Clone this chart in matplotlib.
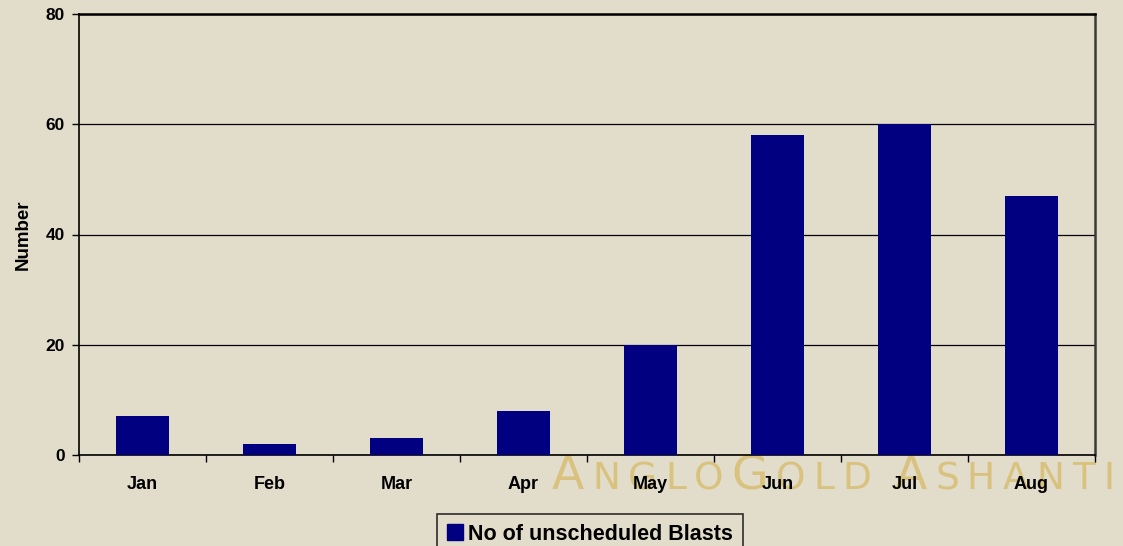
import matplotlib
matplotlib.use("Agg")
import matplotlib.pyplot as plt
from matplotlib.patches import Patch
import numpy as np

months = ["Jan", "Feb", "Mar", "Apr", "May", "Jun", "Jul", "Aug"]
blasts = [7, 2, 3, 8, 20, 58, 60, 47]
yticks = [0, 20, 40, 60, 80]
series_name = "No of unscheduled Blasts"

bg = "#E2DCCA"
navy = "#000080"
plt.rcParams['font.family'] = ['Liberation Sans', 'DejaVu Sans']

fig = plt.figure(figsize=(11.23, 5.46), dpi=100, facecolor=bg)
ax = fig.add_axes([79/1123, 1-455/546, (1095-79)/1123, (455-14)/546])
ax.set_facecolor(bg)

x = np.arange(len(months))
ax.bar(x, blasts, width=0.41, color=navy, zorder=3)
ax.set_xlim(-0.5, len(months)-0.5)
ax.set_ylim(0, 80)
ax.set_yticks(yticks)
ax.set_yticklabels([str(v) for v in yticks], fontsize=12.5, fontweight='bold')
ax.set_xticks(np.arange(len(months)+1)-0.5)
ax.set_xticklabels([])
ax.set_xticks(x, minor=True)
ax.set_xticklabels(months, minor=True, fontsize=13, fontweight='bold')
ax.tick_params(axis='x', which='minor', length=0, pad=15)
ax.tick_params(axis='x', which='major', length=5, width=1, direction='out')
ax.tick_params(axis='y', length=5, width=1, direction='out', pad=5)
ax.grid(axis='y', color='black', linewidth=0.9, zorder=1)
ax.set_axisbelow(True)
for s in ['left', 'bottom']:
    ax.spines[s].set_linewidth(1.2)
    ax.spines[s].set_color('black')
ax.spines['top'].set_linewidth(1.8)
ax.spines['top'].set_color('black')
ax.spines['right'].set_linewidth(1.8)
ax.spines['right'].set_color('#3a3a3a')
ax.set_ylabel("Number", fontsize=13.5, fontweight='bold', labelpad=10)

# watermark (small-caps style logo text), drawn beneath tick labels
wm_color = "#D6B65E"
letters = [("A", 34), ("N", 27), ("G", 27), ("L", 27), ("O", 27), ("G", 34), ("O", 27),
           ("L", 27), ("D", 27), (" ", 27), ("A", 34), ("S", 27), ("H", 27), ("A", 27),
           ("N", 27), ("T", 27), ("I", 27)]
renderer = fig.canvas.get_renderer()
texts = []
widths = []
for s, sz in letters:
    tt = ax.text(0, 1-489/546, s, fontsize=sz, color=wm_color, alpha=0.7,
                 family=['DejaVu Sans'], fontweight='normal', ha='left', va='baseline',
                 transform=fig.transFigure, clip_on=False, zorder=0.5)
    texts.append(tt)
    if s == " ":
        widths.append(sz * 0.3)
    else:
        widths.append(tt.get_window_extent(renderer=renderer).width)
x0, x1 = 552, 1114
extra = (x1 - x0 - sum(widths)) / (len(letters) - 1)
xp = x0
for tt, w in zip(texts, widths):
    tt.set_x(xp / 1123)
    xp += w + extra

leg = fig.legend(handles=[Patch(facecolor=navy, edgecolor=navy)], labels=[series_name],
                 loc='center', bbox_to_anchor=(590/1123, 1-534/546), frameon=True,
                 fancybox=False, edgecolor='black', facecolor=bg,
                 prop={'weight': 'bold', 'size': 15.5}, handlelength=0.75, handleheight=0.75,
                 handletextpad=0.25, borderpad=0.45, borderaxespad=0)
leg.get_frame().set_linewidth(1.2)

fig.savefig("out.png", dpi=100, facecolor=bg)
